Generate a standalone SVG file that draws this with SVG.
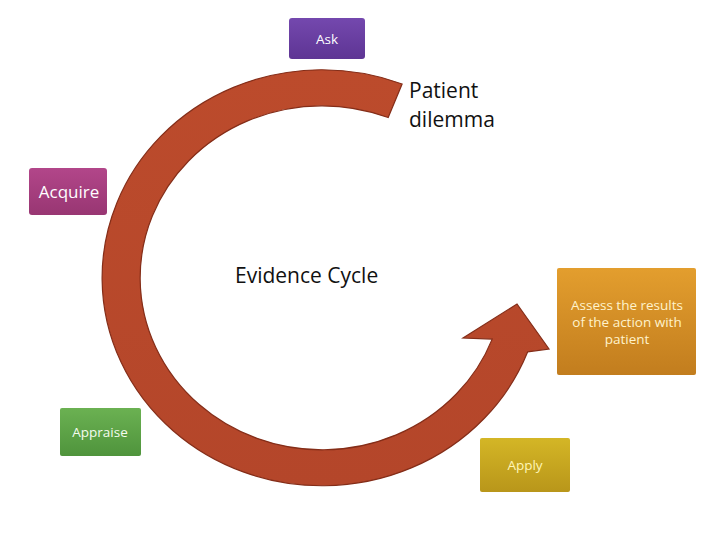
<svg xmlns="http://www.w3.org/2000/svg" width="720" height="540" viewBox="0 0 720 540">
<defs>
<linearGradient id="gAsk" x1="0" y1="0" x2="0" y2="1"><stop offset="0" stop-color="#7448AE"/><stop offset="1" stop-color="#5E3594"/></linearGradient>
<linearGradient id="gAcq" x1="0" y1="0" x2="0" y2="1"><stop offset="0" stop-color="#B2468A"/><stop offset="1" stop-color="#983672"/></linearGradient>
<linearGradient id="gApr" x1="0" y1="0" x2="0" y2="1"><stop offset="0" stop-color="#6BB152"/><stop offset="1" stop-color="#4F943C"/></linearGradient>
<linearGradient id="gApl" x1="0" y1="0" x2="0" y2="1"><stop offset="0" stop-color="#D4B626"/><stop offset="1" stop-color="#B9961A"/></linearGradient>
<linearGradient id="gAss" x1="0" y1="0" x2="0" y2="1"><stop offset="0" stop-color="#E39E2E"/><stop offset="1" stop-color="#C27D1E"/></linearGradient>
<linearGradient id="gArc" x1="0" y1="0" x2="0" y2="1"><stop offset="0" stop-color="#BC4B2C"/><stop offset="1" stop-color="#B4462A"/></linearGradient>
</defs>
<style>
.box{stroke:none}
.small{font-family:"Open Sans","DejaVu Sans",sans-serif;font-size:13.5px;text-anchor:middle}
.big{font-family:"Open Sans","DejaVu Sans",sans-serif;font-size:21px;fill:#111}
</style>
<g id="connectors">
<path id="cycle-arrow" d="M402.1,84 A220,208 0 1 0 527.7,351.8 L549,349 L517,304 L463,338 L492.2,339.1 A182,172 0 1 1 388.2,117.5 Z" fill="url(#gArc)" stroke="#842D18" stroke-width="1.2" stroke-linejoin="miter"/>
</g>
<g id="node-ask">
<rect class="box" x="289" y="18" width="76" height="41" rx="3" fill="url(#gAsk)"/>
<text class="small" x="327" y="44" fill="#FFFFFF">Ask</text>
</g>
<g id="node-acquire">
<rect class="box" x="29" y="168" width="78" height="47" rx="3" fill="url(#gAcq)"/>
<text class="small" x="69" y="198" fill="#FFFFFF" style="font-size:17px">Acquire</text>
</g>
<g id="node-appraise">
<rect class="box" x="60" y="408" width="81" height="48" rx="2" fill="url(#gApr)"/>
<text class="small" x="100" y="437" fill="#F4FBEF">Appraise</text>
</g>
<g id="node-apply">
<rect class="box" x="480" y="438" width="90" height="54" rx="2" fill="url(#gApl)"/>
<text class="small" x="525" y="470" fill="#FFF6B8">Apply</text>
</g>
<g id="node-assess">
<rect class="box" x="557" y="268" width="139" height="107" rx="2" fill="url(#gAss)"/>
<text class="small" x="627" y="310" fill="#FFF3CC">Assess the results</text>
<text class="small" x="627" y="327" fill="#FFF3CC">of the action with</text>
<text class="small" x="627" y="344" fill="#FFF3CC">patient</text>
</g>
<g id="label-patient">
<text class="big" x="409" y="98">Patient</text>
<text class="big" x="409" y="127">dilemma</text>
</g>
<g id="label-center">
<text class="big" x="235" y="283">Evidence Cycle</text>
</g>
</svg>
